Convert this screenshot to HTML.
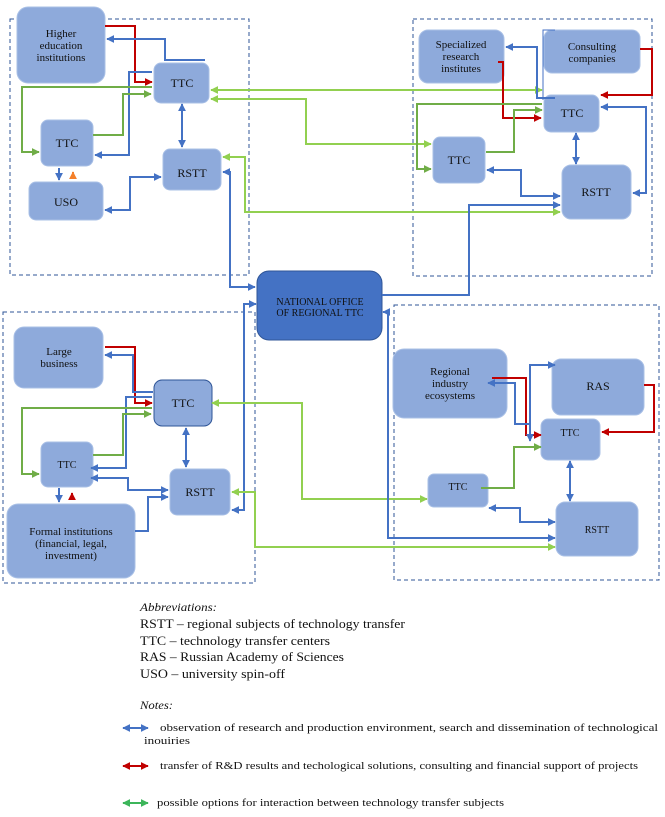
<!DOCTYPE html>
<html><head><meta charset="utf-8"><style>
html,body{margin:0;padding:0;background:#fff;}
svg{display:block;}
text{font-family:"Liberation Serif",serif;fill:#111;}
</style></head><body>
<svg width="665" height="817" viewBox="0 0 665 817" xmlns="http://www.w3.org/2000/svg">
<defs>
<marker id="b" viewBox="0 0 10 10" refX="9" refY="5" markerWidth="4" markerHeight="4" orient="auto-start-reverse"><path d="M0,0L10,5L0,10z" fill="#4472c4"/></marker>
<marker id="r" viewBox="0 0 10 10" refX="9" refY="5" markerWidth="4" markerHeight="4" orient="auto-start-reverse"><path d="M0,0L10,5L0,10z" fill="#c00000"/></marker>
<marker id="g" viewBox="0 0 10 10" refX="9" refY="5" markerWidth="4" markerHeight="4" orient="auto-start-reverse"><path d="M0,0L10,5L0,10z" fill="#92d050"/></marker>
<marker id="dg" viewBox="0 0 10 10" refX="9" refY="5" markerWidth="4" markerHeight="4" orient="auto-start-reverse"><path d="M0,0L10,5L0,10z" fill="#70ad47"/></marker>
<marker id="o" viewBox="0 0 10 10" refX="9" refY="5" markerWidth="4" markerHeight="4" orient="auto-start-reverse"><path d="M0,0L10,5L0,10z" fill="#f4802a"/></marker>
<marker id="lg" viewBox="0 0 10 10" refX="9" refY="5" markerWidth="4" markerHeight="4" orient="auto-start-reverse"><path d="M0,0L10,5L0,10z" fill="#3cb55a"/></marker>
</defs>
<g fill="none" stroke="#2f5597" stroke-width="1" stroke-dasharray="4,3">
<rect x="10" y="19" width="239" height="256"/>
<rect x="413" y="19" width="239" height="257"/>
<rect x="3" y="312" width="252" height="271"/>
<rect x="394" y="305" width="265" height="275"/>
</g>
<g fill="#8eaadb" stroke="#a9c0e6" stroke-width="1">
<rect x="17" y="7" width="88" height="76" rx="11"/>
<rect x="154" y="63" width="55" height="40" rx="7"/>
<rect x="41" y="120" width="52" height="46" rx="7"/>
<rect x="29" y="182" width="74" height="38" rx="7"/>
<rect x="163" y="149" width="58" height="41" rx="7"/>
<rect x="419" y="30" width="85" height="53" rx="9"/>
<rect x="544" y="30" width="96" height="43" rx="8"/>
<rect x="544" y="95" width="55" height="37" rx="7"/>
<rect x="433" y="137" width="52" height="46" rx="7"/>
<rect x="562" y="165" width="69" height="54" rx="9"/>
<rect x="14" y="327" width="89" height="61" rx="10"/>
<rect x="154" y="380" width="58" height="46" rx="8" stroke="#2f5597"/>
<rect x="41" y="442" width="52" height="45" rx="7"/>
<rect x="170" y="469" width="60" height="46" rx="7"/>
<rect x="7" y="504" width="128" height="74" rx="11"/>
<rect x="393" y="349" width="114" height="69" rx="11"/>
<rect x="552" y="359" width="92" height="56" rx="9"/>
<rect x="541" y="419" width="59" height="41" rx="7"/>
<rect x="428" y="474" width="60" height="33" rx="6"/>
<rect x="556" y="502" width="82" height="54" rx="9"/>
</g>
<rect x="257" y="271" width="125" height="69" rx="12" fill="#4472c4" stroke="#2f5597"/>
<g fill="none" stroke-width="2">
<path d="M105,26H135V82H152" stroke="#c00000" marker-end="url(#r)"/>
<path d="M205,60H165V39H107" stroke="#4472c4" marker-end="url(#b)"/>
<path d="M152,72H129V155H95" stroke="#4472c4" marker-end="url(#b)"/>
<path d="M152,87H22V152H39" stroke="#70ad47" marker-end="url(#dg)"/>
<path d="M93,135H123V94H151" stroke="#70ad47" marker-end="url(#dg)"/>
<path d="M182,104V147" stroke="#4472c4" marker-start="url(#b)" marker-end="url(#b)"/>
<path d="M59,168V180" stroke="#4472c4" marker-end="url(#b)"/>
<path d="M73,179V172" stroke="#f4802a" marker-end="url(#o)"/>
<path d="M105,210H130V177H161" stroke="#4472c4" marker-start="url(#b)" marker-end="url(#b)"/>
<path d="M211,90H542" stroke="#92d050" marker-start="url(#g)" marker-end="url(#g)"/>
<path d="M211,99H306V144H431" stroke="#92d050" marker-start="url(#g)" marker-end="url(#g)"/>
<path d="M223,157H245V212H560" stroke="#92d050" marker-start="url(#g)" marker-end="url(#g)"/>
<path d="M223,172H230V287H255" stroke="#4472c4" marker-start="url(#b)" marker-end="url(#b)"/>
<path d="M555,98H537V47H506" stroke="#4472c4" marker-end="url(#b)"/>
<path d="M543,100V30H555" stroke="#4472c4" stroke-width="1"/>
<path d="M498,62H503V118H541" stroke="#c00000" marker-end="url(#r)"/>
<path d="M640,49H652V95H601" stroke="#c00000" marker-end="url(#r)"/>
<path d="M542,104H417V169H431" stroke="#70ad47" marker-end="url(#dg)"/>
<path d="M486,152H514V110H542" stroke="#70ad47" marker-end="url(#dg)"/>
<path d="M576,133V164" stroke="#4472c4" marker-start="url(#b)" marker-end="url(#b)"/>
<path d="M487,170H521V196H560" stroke="#4472c4" marker-start="url(#b)" marker-end="url(#b)"/>
<path d="M601,107H646V193H633" stroke="#4472c4" marker-start="url(#b)" marker-end="url(#b)"/>
<path d="M382,295H469V205H560" stroke="#4472c4" marker-end="url(#b)"/>
<path d="M105,347H135V403H152" stroke="#c00000" marker-end="url(#r)"/>
<path d="M153,392H133V355H105" stroke="#4472c4" marker-end="url(#b)"/>
<path d="M152,397H126V468H91" stroke="#4472c4" marker-end="url(#b)"/>
<path d="M152,408H22V474H39" stroke="#70ad47" marker-end="url(#dg)"/>
<path d="M93,455H123V414H151" stroke="#70ad47" marker-end="url(#dg)"/>
<path d="M186,428V467" stroke="#4472c4" marker-start="url(#b)" marker-end="url(#b)"/>
<path d="M91,478H128V490H168" stroke="#4472c4" marker-start="url(#b)" marker-end="url(#b)"/>
<path d="M59,488V502" stroke="#4472c4" marker-end="url(#b)"/>
<path d="M72,500V493" stroke="#c00000" marker-end="url(#r)"/>
<path d="M135,531H148V497H168" stroke="#4472c4" marker-end="url(#b)"/>
<path d="M232,510H244V304H256" stroke="#4472c4" marker-start="url(#b)" marker-end="url(#b)"/>
<path d="M212,403H302V499H427" stroke="#92d050" marker-start="url(#g)" marker-end="url(#g)"/>
<path d="M232,492H255V547H555" stroke="#92d050" marker-start="url(#g)" marker-end="url(#g)"/>
<path d="M383,312H388V538H555" stroke="#4472c4" marker-start="url(#b)" marker-end="url(#b)"/>
<path d="M492,378H526V435H541" stroke="#c00000" marker-end="url(#r)"/>
<path d="M530,424H515V383H488" stroke="#4472c4" marker-end="url(#b)"/>
<path d="M530,441V365H555" stroke="#4472c4" marker-start="url(#b)" marker-end="url(#b)"/>
<path d="M644,385H654V432H602" stroke="#c00000" marker-end="url(#r)"/>
<path d="M481,488H514V447H541" stroke="#70ad47" marker-end="url(#dg)"/>
<path d="M570,461V501" stroke="#4472c4" marker-start="url(#b)" marker-end="url(#b)"/>
<path d="M489,508H520V522H555" stroke="#4472c4" marker-start="url(#b)" marker-end="url(#b)"/>
<path d="M123,728H148" stroke="#4472c4" marker-start="url(#b)" marker-end="url(#b)"/>
<path d="M123,766H148" stroke="#c00000" marker-start="url(#r)" marker-end="url(#r)"/>
<path d="M123,803H148" stroke="#3cb55a" marker-start="url(#lg)" marker-end="url(#lg)"/>
</g>
<g font-size="11" text-anchor="middle">
<text x="61" y="37">Higher</text><text x="61" y="49">education</text><text x="61" y="61">institutions</text>
<text x="182" y="87" font-size="12">TTC</text>
<text x="67" y="147" font-size="12">TTC</text>
<text x="66" y="206" font-size="12">USO</text>
<text x="192" y="177" font-size="12">RSTT</text>
<text x="461" y="48">Specialized</text><text x="461" y="60">research</text><text x="461" y="72">institutes</text>
<text x="592" y="50">Consulting</text><text x="592" y="62">companies</text>
<text x="572" y="117" font-size="12">TTC</text>
<text x="459" y="164" font-size="12">TTC</text>
<text x="596" y="196" font-size="12">RSTT</text>
<text x="320" y="305" font-size="10">NATIONAL OFFICE</text><text x="320" y="316" font-size="10">OF REGIONAL TTC</text>
<text x="59" y="355">Large</text><text x="59" y="367">business</text>
<text x="183" y="407" font-size="12">TTC</text>
<text x="67" y="468" font-size="10">TTC</text>
<text x="200" y="496" font-size="12">RSTT</text>
<text x="71" y="535">Formal institutions</text><text x="71" y="547">(financial, legal,</text><text x="71" y="559">investment)</text>
<text x="450" y="375">Regional</text><text x="450" y="387">industry</text><text x="450" y="399">ecosystems</text>
<text x="598" y="390" font-size="12">RAS</text>
<text x="570" y="436" font-size="10">TTC</text>
<text x="458" y="490" font-size="10">TTC</text>
<text x="597" y="533" font-size="10">RSTT</text>
</g>
<text x="140" y="611" font-style="italic" font-size="11.5" textLength="77" lengthAdjust="spacingAndGlyphs">Abbreviations:</text>
<text x="140" y="628" font-size="13" textLength="265" lengthAdjust="spacingAndGlyphs">RSTT – regional subjects of technology transfer</text>
<text x="140" y="645" font-size="13" textLength="190" lengthAdjust="spacingAndGlyphs">TTC – technology transfer centers</text>
<text x="140" y="661" font-size="13" textLength="204" lengthAdjust="spacingAndGlyphs">RAS – Russian Academy of Sciences</text>
<text x="140" y="678" font-size="13" textLength="145" lengthAdjust="spacingAndGlyphs">USO – university spin-off</text>
<text x="140" y="709" font-style="italic" font-size="11.5" textLength="33" lengthAdjust="spacingAndGlyphs">Notes:</text>
<text x="160" y="731" font-size="11" textLength="498" lengthAdjust="spacingAndGlyphs">observation of research and production environment, search and dissemination of technological</text>
<text x="144" y="744" font-size="11" textLength="46" lengthAdjust="spacingAndGlyphs">inouiries</text>
<text x="160" y="769" font-size="11" textLength="478" lengthAdjust="spacingAndGlyphs">transfer of R&amp;D results and techological solutions, consulting and financial support of projects</text>
<text x="157" y="806" font-size="11" textLength="347" lengthAdjust="spacingAndGlyphs">possible options for interaction between technology transfer subjects</text>
</svg>
</body></html>
